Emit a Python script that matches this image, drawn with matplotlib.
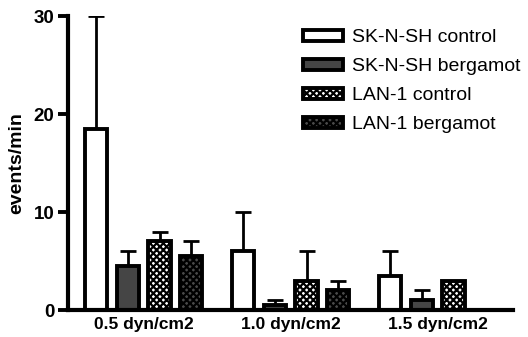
import matplotlib
matplotlib.use("Agg")
import matplotlib.pyplot as plt
import numpy as np

plt.rcParams['font.family'] = ['Liberation Sans', 'DejaVu Sans']
plt.rcParams['hatch.linewidth'] = 1.6

categories = ["0.5 dyn/cm2", "1.0 dyn/cm2", "1.5 dyn/cm2"]
series = ["SK-N-SH control", "SK-N-SH bergamot", "LAN-1 control", "LAN-1 bergamot"]
sk_control = [18.5, 6.0, 3.5]
sk_control_err = [11.5, 4.0, 2.5]
sk_bergamot = [4.5, 0.5, 1.0]
sk_bergamot_err = [1.5, 0.5, 1.0]
lan_control = [7.0, 3.0, 3.0]
lan_control_err = [1.0, 3.0, 0.0]
lan_bergamot = [5.5, 2.0, 0.0]
lan_bergamot_err = [1.5, 1.0, 0.0]

values = [sk_control, sk_bergamot, lan_control, lan_bergamot]
errors = [sk_control_err, sk_bergamot_err, lan_control_err, lan_bergamot_err]
faces = ['white', '#454545', 'white', '#4a4a4a']
hatches = [None, None, 'xxxxx', 'xxxxx']

fig = plt.figure(figsize=(5.28, 3.37), dpi=100)
ax = fig.add_axes([0.129, 0.080, 0.843, 0.8725])

x = np.arange(len(categories))
width = 0.15
step = 0.2155
for i in range(4):
    pos = x + (i - 1.5) * step
    vals = np.array(values[i])
    errs = np.array(errors[i])
    mask = vals > 0
    ax.bar(pos[mask], vals[mask], width=width, color=faces[i], edgecolor='black',
           linewidth=2.8, hatch=hatches[i], label=series[i], zorder=2)
    emask = errs > 0
    ax.errorbar(pos[emask], vals[emask], yerr=[np.zeros(emask.sum()), errs[emask]],
                fmt='none', ecolor='black', elinewidth=2.0, capsize=5.5, capthick=2.0, zorder=1)

ax.set_xlim(-0.514, 2.514)
ax.set_ylim(0, 30)
ax.set_yticks([0, 10, 20, 30])
ax.set_xticks(x)
ax.set_xticklabels(categories, fontsize=12.5, fontweight='bold')
for lab in ax.get_yticklabels():
    lab.set_fontsize(13.5)
    lab.set_fontweight('bold')
ax.tick_params(axis='x', length=0, pad=5)
ax.tick_params(axis='y', length=7, width=2.8, pad=3)
for s in ['top', 'right']:
    ax.spines[s].set_visible(False)
for s in ['left', 'bottom']:
    ax.spines[s].set_linewidth(3.0)
ax.set_ylabel("events/min", fontsize=14, fontweight='bold', labelpad=6)

ax.legend(loc='upper left', bbox_to_anchor=(0.528, 0.955), frameon=False,
          fontsize=14, handlelength=2.06, handleheight=0.5, labelspacing=0.62,
          handletextpad=0.46, borderaxespad=0, borderpad=0)

fig.savefig("out.png", dpi=100)
